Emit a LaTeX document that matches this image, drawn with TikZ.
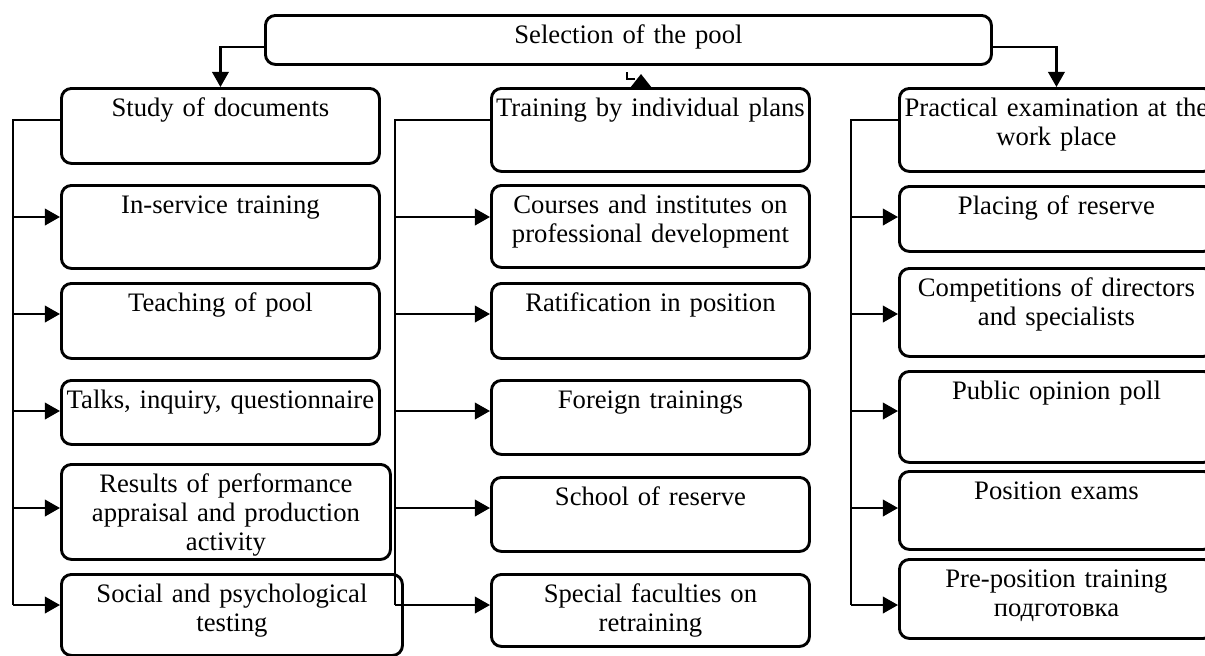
\documentclass[tikz,border=0pt]{standalone}
\usepackage{fontspec}
\setmainfont{Liberation Serif}
\usetikzlibrary{arrows.meta}

\tikzset{box/.style={draw,rounded corners=4.5pt,line width=1.3pt,inner sep=0pt,
    anchor=north west,align=center,text height=12.6pt,font=\fontsize{12}{13}\selectfont},
  line/.style={line width=1.1pt},
  arr/.style={line width=1.1pt,-{Triangle[length=6.8pt,width=7.4pt]}}}

% box: name, left, top, right, bottom, text
\newcommand{\bx}[6]{%
  \pgfmathsetmacro\bxw{(#4-#2)*0.45}%
  \pgfmathsetmacro\bxd{(#5-#3-28)*0.45}%
  \node[box,text width=\bxw pt,text depth=\bxd pt] (#1) at (#2,#3) {#6};}

\begin{document}
\begin{tikzpicture}[x=0.45pt,y=-0.45pt]
  \useasboundingbox (0,0) rectangle (1205,655);
  \bx{sel}{264}{14}{990}{63}{Selection of the pool}
  % left column
  \bx{doc}{60}{87}{378}{162}{Study of documents}
  \bx{serv}{60}{184}{378}{267}{In-service training}
  \bx{teach}{60}{282}{378}{357}{Teaching of pool}
  \bx{talk}{60}{379}{378}{443}{Talks, inquiry, questionnaire}
  \bx{res}{60}{463}{389}{558}{Results of performance\\appraisal and production\\activity}
  \bx{soc}{60}{573}{401}{654}{Social and psychological\\testing}
  % middle column
  \bx{ind}{490}{87}{808}{170}{Training by individual plans}
  \bx{crs}{490}{184}{808}{266}{Courses and institutes on\\professional development}
  \bx{rat}{490}{282}{808}{357}{Ratification in position}
  \bx{frn}{490}{379}{808}{453}{Foreign trainings}
  \bx{sch}{490}{476}{808}{550}{School of reserve}
  \bx{spc}{490}{573}{808}{645}{Special faculties on\\retraining}
  % right column
  \bx{prac}{898}{87}{1212}{170}{Practical examination at the\\work place}
  \bx{plc}{898}{185}{1212}{250}{Placing of reserve}
  \bx{comp}{898}{267}{1212}{355}{Competitions of directors\\and specialists}
  \bx{pub}{898}{370}{1212}{461}{Public opinion poll}
  \bx{exam}{898}{470}{1212}{548}{Position exams}
  \bx{pre}{898}{558}{1212}{637}{Pre-position training\\подготовка}

  \draw[arr] (sel.west |- 0,47) -| (doc.north);
  \draw[arr] (sel.east |- 0,47) -| (prac.north);
  \draw[line,line width=0.9pt] (627,72) |- (635,79);
  \draw[arr,-{Triangle[length=5.9pt,width=9pt]}] (ind.north -| 641,0) -- ++(0,-13);

  \draw[line] (doc.west |- 0,120) -| (13,605);
  \draw[line] (ind.west |- 0,120) -| (395,605);
  \draw[line] (prac.west |- 0,120) -| (851,605);
  \foreach \n/\y in {serv/217,teach/314,talk/411,res/508,soc/605}
    \draw[arr] (13,\y) -- (\n.west |- 0,\y);
  \foreach \n/\y in {crs/217,rat/314,frn/411,sch/508,spc/605}
    \draw[arr] (395,\y) -- (\n.west |- 0,\y);
  \foreach \n/\y in {plc/217,comp/314,pub/411,exam/508,pre/605}
    \draw[arr] (851,\y) -- (\n.west |- 0,\y);
\end{tikzpicture}
\end{document}
